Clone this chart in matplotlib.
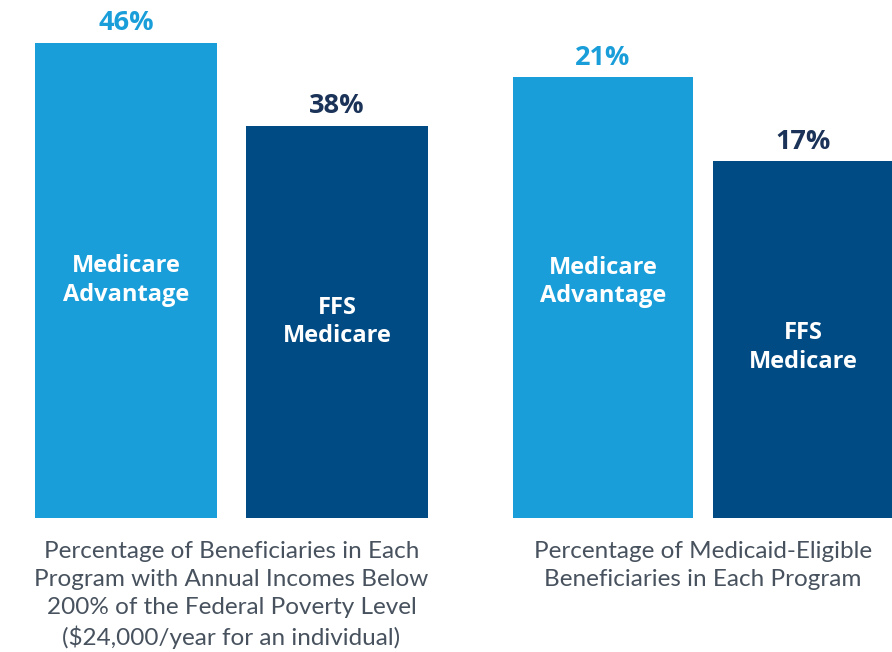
import matplotlib
matplotlib.use('Agg')
import matplotlib.pyplot as plt

# Data
programs = ['Medicare\nAdvantage', 'FFS\nMedicare']
income_vals = [46, 38]
medicaid_vals = [21, 17]
captions = [
    'Percentage of Beneficiaries in Each\nProgram with Annual Incomes Below\n'
    '200% of the Federal Poverty Level\n($24,000/year for an individual)',
    'Percentage of Medicaid-Eligible\nBeneficiaries in Each Program',
]

LIGHT = '#199ed9'
DARK = '#004b84'
LABEL_DARK = '#1b3358'
GRAY = '#47525e'
BOLD_FONT = ['Open Sans', 'DejaVu Sans']
CAP_FONT = ['Lato', 'DejaVu Sans']

fig = plt.figure(figsize=(8.92, 6.52), dpi=100)
W, H = 892, 652

def panel(left_px, right_px, vals, width, ymax, inner_frac, caption):
    bottom_px = 518
    ax = fig.add_axes([left_px / W, (H - bottom_px) / H,
                       (right_px - left_px) / W, bottom_px / H])
    half = width / 2
    ax.set_xlim(-half, 1 + half)
    ax.set_ylim(0, ymax)
    ax.axis('off')
    colors = [LIGHT, DARK]
    ax.bar([0, 1], vals, width=width, color=colors)
    for i, v in enumerate(vals):
        ax.annotate(f'{v}%', (i, v), xytext=(0, 9), textcoords='offset points',
                    ha='center', va='baseline', fontsize=19.5, fontweight='bold',
                    color=[LIGHT, LABEL_DARK][i], family=BOLD_FONT)
        ax.text(i, v * inner_frac[i], programs[i], ha='center', va='center',
                fontsize=17, fontweight='bold', color='white', family=BOLD_FONT,
                linespacing=1.25)
    ax.text(0.5, -0.045, caption, transform=ax.transAxes, ha='center', va='top',
            fontsize=17.5, color=GRAY, family=CAP_FONT, linespacing=1.4)
    return ax

panel(35, 428, income_vals, 0.863, 50.16, [0.5, 0.5], captions[0])
panel(513, 893, medicaid_vals, 0.9, 24.67, [0.535, 0.478], captions[1])

fig.savefig('out.png', dpi=100, facecolor='white')
